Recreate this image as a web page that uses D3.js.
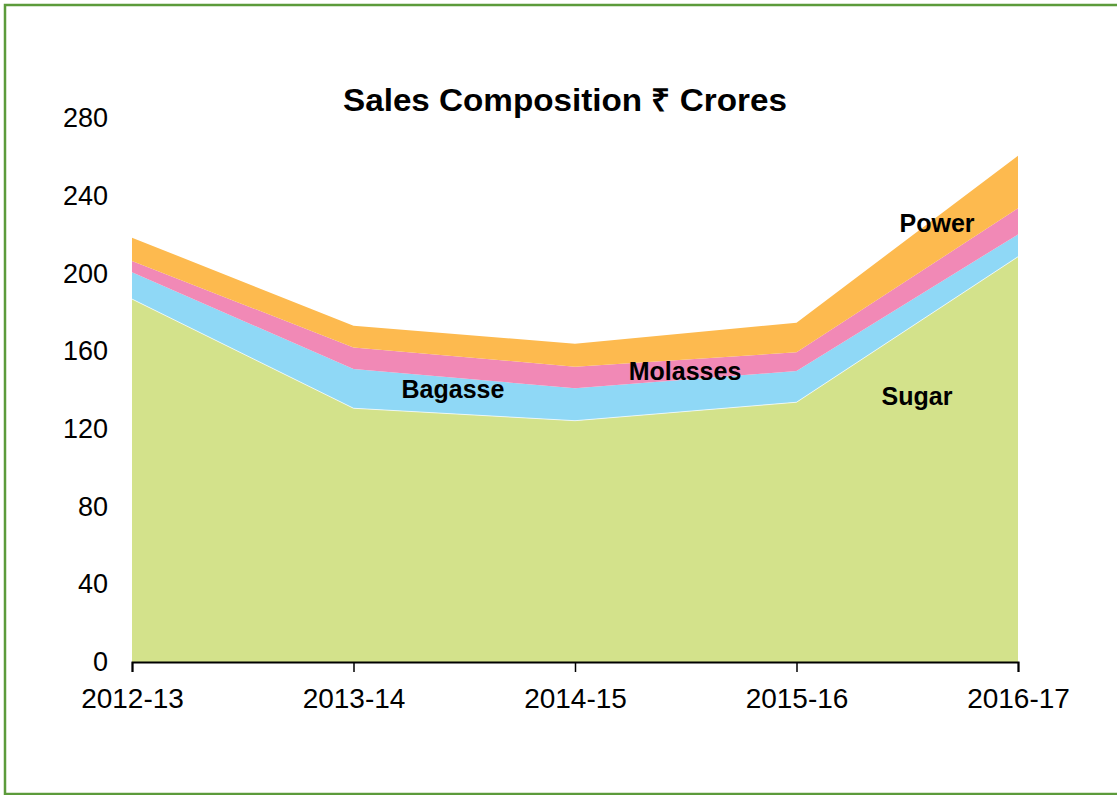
<!DOCTYPE html>
<html lang="en">
<head>
    <meta charset="utf-8">
    <title>Sales Composition</title>
    <script src="https://d3js.org/d3.v7.min.js"></script>
    <style>
        body{
            margin: 0;
            background: #fff;
            overflow: hidden;
            font-family: "Liberation Sans", Arial, sans-serif;
        }
        svg{
            display: block;
            overflow: hidden;
        }
    </style>
</head>
<body>
    <div class="chart"></div>

    <script>
        var years = ["2012-13", "2013-14", "2014-15", "2015-16", "2016-17"];
        var sugar = [186.8, 130.6, 124.2, 133.7, 208.6];
        var bagasse = [13.8, 20.2, 16.7, 16.1, 11.5];
        var molasses = [5.8, 11.1, 11.1, 9.6, 13.4];
        var power = [12.0, 11.2, 11.8, 15.2, 27.1];
        var yTicks = [0, 40, 80, 120, 160, 200, 240, 280];

        var seriesNames = ["Sugar", "Bagasse", "Molasses", "Power"];
        var seriesColors = ["#d3e28b", "#8fd8f6", "#f189b6", "#fdba4f"];

        var width = 1117;
        var height = 795;

        var svg = d3.select("div.chart")
            .append("svg")
            .attr("width", width)
            .attr("height", height);

        // green frame, right edge runs off the picture
        svg.append("rect")
            .attr("x", 5)
            .attr("y", 5)
            .attr("width", 1160)
            .attr("height", 789)
            .attr("fill", "none")
            .attr("stroke", "#5c9b3b")
            .attr("stroke-width", 2.5);

        var x = d3.scalePoint()
            .domain(years)
            .range([132, 1018]);

        var y = d3.scaleLinear()
            .domain([0, 280])
            .range([662, 118]);

        var table = years.map(function(yr, i){
            return {year: yr, Sugar: sugar[i], Bagasse: bagasse[i], Molasses: molasses[i], Power: power[i]};
        });

        var stacked = d3.stack().keys(seriesNames)(table);

        var area = d3.area()
            .x(function(d){ return x(d.data.year); })
            .y0(function(d){ return y(d[0]); })
            .y1(function(d){ return y(d[1]); });

        svg.append("g")
            .selectAll("path")
            .data(stacked)
            .enter()
            .append("path")
            .attr("d", area)
            .attr("fill", function(d, i){ return seriesColors[i]; });

        // faint white seam on top of the sugar layer
        var topLine = d3.line()
            .x(function(d){ return x(d.data.year); })
            .y(function(d){ return y(d[1]); });
        svg.append("path")
            .attr("d", topLine(stacked[0]))
            .attr("fill", "none")
            .attr("stroke", "#fff")
            .attr("stroke-width", 1)
            .attr("opacity", 0.7);

        // x axis
        var xAxis = svg.append("g")
            .attr("transform", "translate(0," + y(0) + ")")
            .call(d3.axisBottom(x).tickSize(10).tickPadding(16));
        xAxis.select(".domain").attr("stroke", "#000").attr("stroke-width", 2);
        xAxis.selectAll(".tick line").attr("stroke", "#000").attr("stroke-width", 1.5);
        xAxis.selectAll(".tick text")
            .attr("font-family", "'Liberation Sans', Arial, sans-serif")
            .attr("font-size", 28)
            .attr("fill", "#000");

        // y axis, labels only
        var yAxis = svg.append("g")
            .attr("transform", "translate(110,0)")
            .call(d3.axisLeft(y).tickValues(yTicks).tickSize(0).tickPadding(2));
        yAxis.select(".domain").remove();
        yAxis.selectAll(".tick text")
            .attr("font-family", "'Liberation Sans', Arial, sans-serif")
            .attr("font-size", 27)
            .attr("fill", "#000");

        svg.append("text")
            .attr("x", 565)
            .attr("y", 111)
            .attr("text-anchor", "middle")
            .attr("font-family", "'Liberation Sans', Arial, sans-serif")
            .attr("font-weight", "bold")
            .attr("font-size", 31)
            .attr("textLength", 444)
            .attr("lengthAdjust", "spacingAndGlyphs")
            .attr("fill", "#000")
            .text("Sales Composition \u20B9 Crores");

        var labelSpots = [
            {name: "Sugar", x: 917, y: 405},
            {name: "Bagasse", x: 453, y: 398},
            {name: "Molasses", x: 685, y: 380},
            {name: "Power", x: 937, y: 232}
        ];

        svg.append("g")
            .selectAll("text")
            .data(labelSpots)
            .enter()
            .append("text")
            .attr("x", function(d){ return d.x; })
            .attr("y", function(d){ return d.y; })
            .attr("text-anchor", "middle")
            .attr("font-family", "'Liberation Sans', Arial, sans-serif")
            .attr("font-weight", "bold")
            .attr("font-size", 25)
            .attr("fill", "#000")
            .text(function(d){ return d.name; });
    </script>
</body>
</html>
